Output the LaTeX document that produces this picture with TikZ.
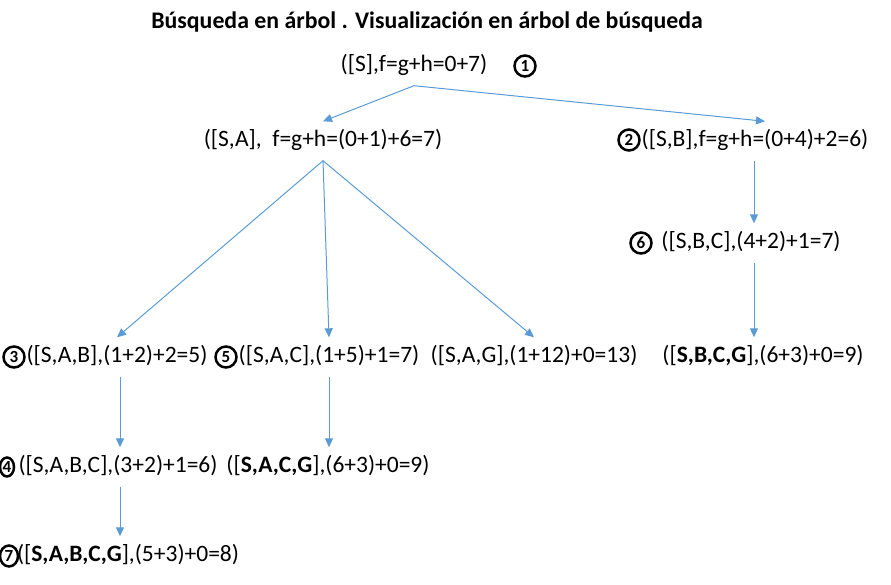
\documentclass[tikz,border=0pt]{standalone}
\usepackage{fontspec}
\setmainfont{Carlito}
\usetikzlibrary{arrows.meta,shapes.geometric}
\definecolor{edgeblue}{HTML}{5B9BD5}

\begin{document}
\begin{tikzpicture}[x=1pt,y=-1pt]
\useasboundingbox (0,0) rectangle (891,585);
\node[font=\fontsize{23.8}{26}\selectfont\bfseries] (title) at (427,22) {Búsqueda en árbol . Visualización en árbol de búsqueda};

\begin{scope}[every node/.style={font=\fontsize{23.5}{26}\selectfont,inner sep=8pt,text height=17pt,text depth=6pt}]
    \node (S) at (414,66) {([S],f=g+h=0+7)};
    \node (SA) at (323,141) {([S,A], \ f=g+h=(0+1)+6=7)};
    \node (SB) at (755,141) {([S,B],f=g+h=(0+4)+2=6)};
    \node (SBC) at (751,243) {([S,B,C],(4+2)+1=7)};

    \node (SAB) at (117,357) {([S,A,B],(1+2)+2=5)};
    \node (SAC) at (329,357) {([S,A,C],(1+5)+1=7)};
    \node (SAG) at (534,357) {([S,A,G],(1+12)+0=13)};
    \node (SBCG) at (763,357) {([\textbf{S,B,C,G}],(6+3)+0=9)};

    \node (SABC) at (118,467) {([S,A,B,C],(3+2)+1=6)};
    \node (SACG) at (328,467) {([\textbf{S,A,C,G}],(6+3)+0=9)};
    \node (SABCG) at (128,556) {([\textbf{S,A,B,C,G}],(5+3)+0=8)};
\end{scope}

\begin{scope}[every node/.style={circle,draw,line width=2.5pt,inner sep=0pt,minimum size=21pt,font=\fontsize{17}{17}\selectfont\bfseries}]
    \node (n1) at (525,66) {1};
    \node (n2) at (629,140) {2};
    \node (n6) at (641,243) {6};
    \node (n3) at (14,357) {3};
    \node (n5) at (226,357) {5};
    \node[ellipse,minimum width=14pt,minimum height=19pt] (n4) at (7,467) {4};
    \node[ellipse,minimum width=18pt,minimum height=21pt] (n7) at (9,556) {7};
\end{scope}

\begin{scope}[every edge/.style={draw=edgeblue,line width=1pt}]
    \path [-{Triangle[length=9pt,width=8pt]}] (S.south) edge (SA.north);
    \path [-{Triangle[length=9pt,width=8pt]}] (S.south) edge ([xshift=10pt]SB.north);
    \path [-{Triangle[length=9pt,width=8pt]}] (SA.south) edge (SAB.north);
    \path [-{Triangle[length=9pt,width=8pt]}] (SA.south) edge (SAC.north);
    \path [-{Triangle[length=9pt,width=8pt]}] (SA.south) edge (SAG.north);
    \path [-{Triangle[length=9pt,width=8pt]}] ([xshift=-1pt]SB.south) edge ([xshift=3pt]SBC.north);
    \path [-{Triangle[length=9pt,width=8pt]}] ([xshift=3pt]SBC.south) edge ([xshift=-9pt]SBCG.north);
    \path [-{Triangle[length=9pt,width=8pt]}] ([xshift=3pt]SAB.south) edge ([xshift=2pt]SABC.north);
    \path [-{Triangle[length=9pt,width=8pt]}] (SAC.south) edge ([xshift=1pt]SACG.north);
    \path [-{Triangle[length=9pt,width=8pt]}] ([xshift=2pt]SABC.south) edge ([xshift=-8pt]SABCG.north);
\end{scope}
\end{tikzpicture}
\end{document}
